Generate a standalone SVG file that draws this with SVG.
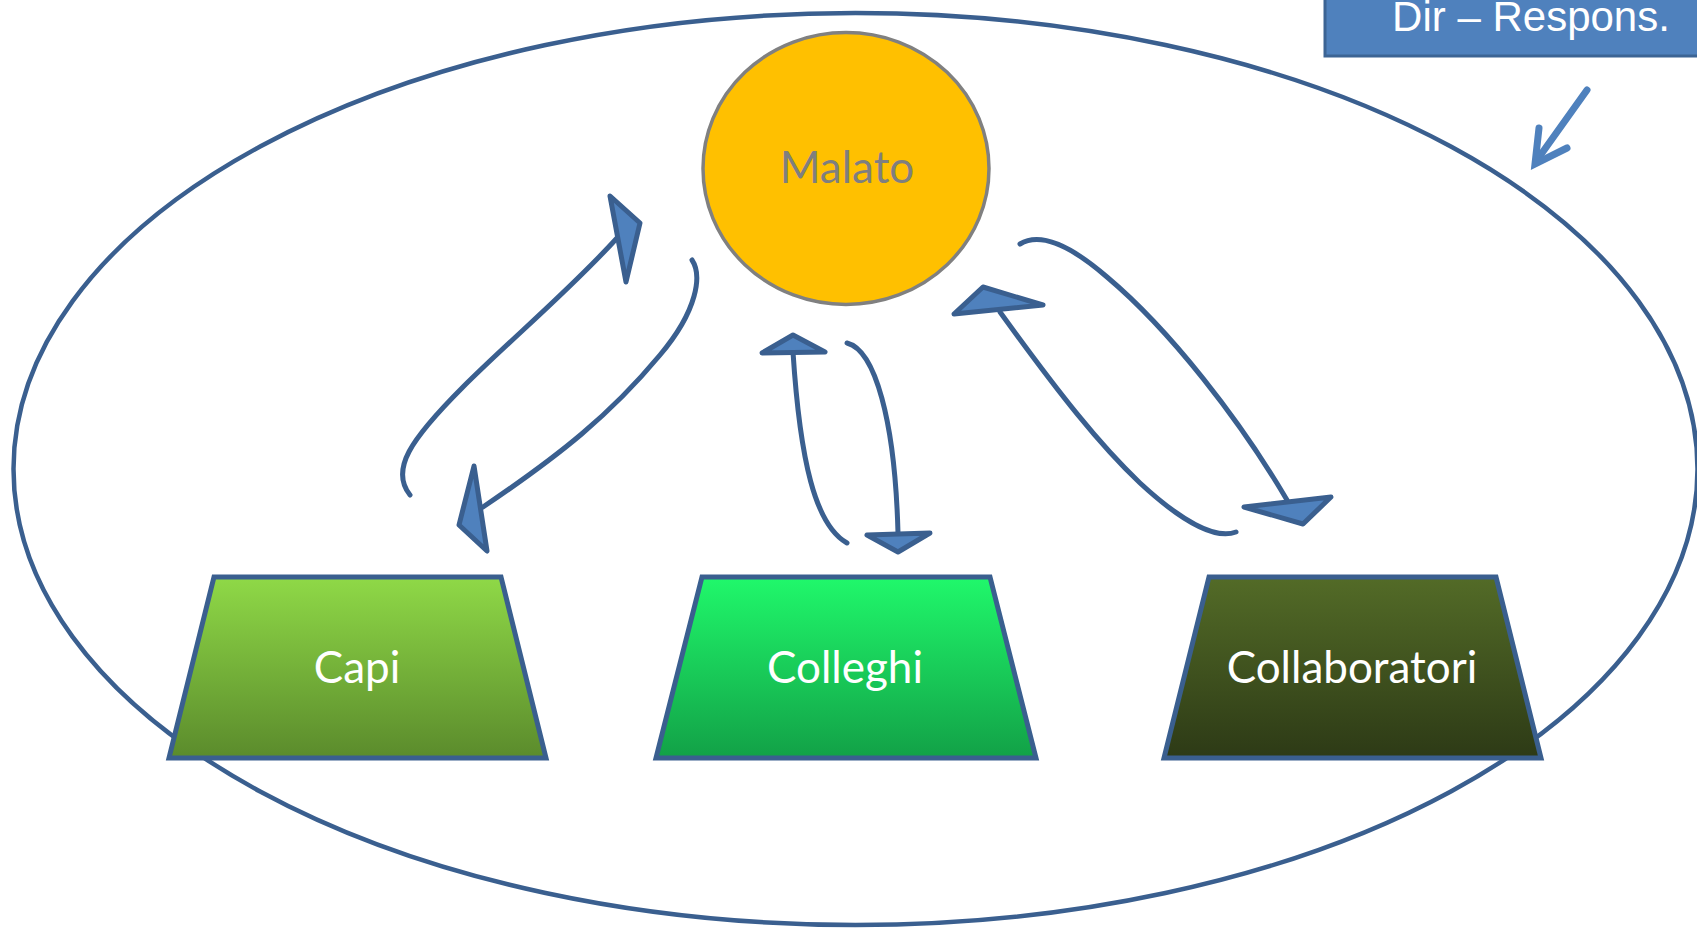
<svg xmlns="http://www.w3.org/2000/svg" width="1697" height="928" viewBox="0 0 1697 928">
<style>
.conn{fill:none;stroke:#3a5f8f;stroke-width:5;stroke-linecap:round}
.head{fill:#4f81bd;stroke:#3a5f8f;stroke-width:5;stroke-linejoin:round}
.trap{stroke:#3a5f8f;stroke-width:5}
.lbl{font-family:Lato,"Open Sans",sans-serif;font-size:44px;fill:#ffffff;text-anchor:middle}
</style>
<defs>
<linearGradient id="gCapi" x1="0" y1="0" x2="0" y2="1"><stop offset="0" stop-color="#8fd947"/><stop offset="1" stop-color="#5b8b2c"/></linearGradient>
<linearGradient id="gColl" x1="0" y1="0" x2="0" y2="1"><stop offset="0" stop-color="#20f86b"/><stop offset="1" stop-color="#12a147"/></linearGradient>
<linearGradient id="gCollab" x1="0" y1="0" x2="0" y2="1"><stop offset="0" stop-color="#536b27"/><stop offset="1" stop-color="#2d3a16"/></linearGradient>
</defs>
<rect width="1697" height="928" fill="#ffffff"/>
<ellipse id="cornice" cx="855.5" cy="469" rx="842" ry="456" fill="none" stroke="#3a5f8f" stroke-width="4.5"/>
<g id="dir">
<rect x="1325" y="-10" width="420" height="66" fill="#4f81bd" stroke="#3c6494" stroke-width="3"/>
<text x="1531" y="31" font-family="'Liberation Sans',Arial,sans-serif" font-size="42" fill="#ffffff" text-anchor="middle">Dir – Respons.</text>
</g>
<g id="dir-arrow" fill="none" stroke="#4f81bd" stroke-width="7" stroke-linecap="round" stroke-linejoin="miter">
<line x1="1587" y1="90" x2="1537" y2="160"/>
<polyline points="1539,128 1535,164 1567,148"/>
</g>
<g id="malato">
<ellipse cx="846" cy="168.5" rx="143" ry="136" fill="#ffc000" stroke="#808080" stroke-width="3.5"/>
<text x="847" y="183" font-family="Lato,'Open Sans',sans-serif" font-size="44" fill="#7f7f7f" text-anchor="middle">Malato</text>
</g>
<g id="capi">
<polygon class="trap" points="214,577 501,577 546,758 169,758" fill="url(#gCapi)"/>
<text class="lbl" x="357" y="683">Capi</text>
</g>
<g id="colleghi">
<polygon class="trap" points="702,577 990,577 1036,758 656,758" fill="url(#gColl)"/>
<text class="lbl" x="845" y="683">Colleghi</text>
</g>
<g id="collaboratori">
<polygon class="trap" points="1209,577 1496,577 1541,758 1164,758" fill="url(#gCollab)"/>
<text class="lbl" x="1352" y="683">Collaboratori</text>
</g>
<g id="connectors">
<path class="conn" d="M410,495 C390,470 410,440 463,387 C510,340 570,290 617,238"/>
<polygon class="head" points="610,196 640,223 626,282"/>
<path class="conn" d="M692,260 C702,275 698,310 660,355 C610,415 560,455 483,507"/>
<polygon class="head" points="474,466 459,525 487,551"/>
<path class="conn" d="M847,543 C815,525 800,460 793,352"/>
<polygon class="head" points="762,353 793,335 825,352"/>
<path class="conn" d="M847,343 C875,350 895,420 898,533"/>
<polygon class="head" points="867,535 930,533 898,552"/>
<path class="conn" d="M1236,532 C1215,540 1180,520 1140,483 C1100,445 1060,395 1000,312"/>
<polygon class="head" points="954,314 983,287 1043,305"/>
<path class="conn" d="M1020,244 C1040,232 1070,245 1107,277 C1170,330 1240,420 1287,500"/>
<polygon class="head" points="1244,507 1331,497 1303,524"/>
</g>
</svg>
